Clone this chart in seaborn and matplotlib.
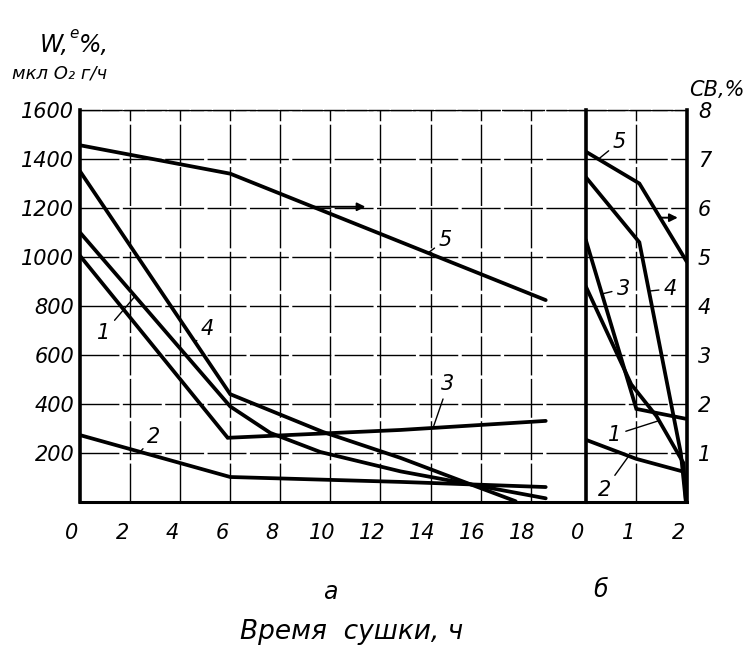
import numpy as np
import pandas as pd
import matplotlib
matplotlib.use("Agg")
import matplotlib.pyplot as plt
import matplotlib.transforms as mtransforms
import seaborn as sns

# ---- panel "а": long drying, W (мкл O2 г/ч) vs time, h ----
a1_h = [0, 6.0, 7.6, 9.6, 12.8, 15.6, 18.6]
a1_w = [1100, 390, 282, 204, 125, 72, 15]
a2_h = [0, 6.0, 12.8, 18.6]
a2_w = [273, 102, 82, 61]
a3_h = [0, 5.9, 12.8, 18.6]
a3_w = [1005, 262, 294, 331]
a4_h = [0, 6.0, 9.7, 12.8, 15.6, 17.4]
a4_w = [1350, 440, 286, 180, 72, 3]
# curve 5 is read on the right-hand СВ, % scale
a5_h = [0, 6.0, 18.6]
a5_cb = [7.28, 6.7, 4.12]

# ---- panel "б": short drying, СВ, % vs time, h ----
b1_h = [0, 0.9, 1.4, 1.93, 1.98]
b1_cb = [4.4, 2.4, 1.75, 0.8, 0.05]
b2_h = [0, 1.0, 1.93]
b2_cb = [1.27, 0.88, 0.62]
b3_h = [0, 1.0, 1.97]
b3_cb = [5.35, 1.9, 1.7]
b4_h = [0, 1.06, 1.88, 1.98]
b4_cb = [6.63, 5.3, 1.0, 0.0]
b5_h = [0, 1.06, 2.0]
b5_cb = [7.15, 6.5, 4.9]

a_xticks = [0, 2, 4, 6, 8, 10, 12, 14, 16, 18]
w_ticks = [200, 400, 600, 800, 1000, 1200, 1400, 1600]
b_xticks = [0, 1, 2]
cb_ticks = [1, 2, 3, 4, 5, 6, 7, 8]

sns.set_theme(style="white")
plt.rcParams['font.family'] = ['DejaVu Sans']
plt.rcParams['font.style'] = 'italic'
plt.rcParams['text.color'] = 'black'
plt.rcParams['xtick.color'] = 'black'
plt.rcParams['ytick.color'] = 'black'
plt.rcParams['axes.labelcolor'] = 'black'

INK = "black"
LW = 2.7
FS = 15

fig = plt.figure(figsize=(7.51, 6.55), dpi=100)
ax_a = fig.add_axes([0.1065, 0.2336, 0.6735, 0.5985])
ax_b = fig.add_axes([0.780, 0.2336, 0.1346, 0.5985])
ax_a5 = ax_a.twinx()


def curve(ax, xs, ys):
    df = pd.DataFrame({"t": xs, "v": ys})
    sns.lineplot(data=df, x="t", y="v", ax=ax, color=INK, lw=LW,
                 sort=False, estimator=None, solid_joinstyle="miter")


for xs, ys in [(a1_h, a1_w), (a2_h, a2_w), (a3_h, a3_w), (a4_h, a4_w)]:
    curve(ax_a, xs, ys)
curve(ax_a5, a5_h, a5_cb)
for xs, ys in [(b1_h, b1_cb), (b2_h, b2_cb), (b3_h, b3_cb),
               (b4_h, b4_cb), (b5_h, b5_cb)]:
    curve(ax_b, xs, ys)

# axes limits
ax_a.set_xlim(0, 20.2)
ax_a.set_ylim(0, 1600)
ax_a5.set_ylim(0, 8)
ax_b.set_xlim(0, 2.0)
ax_b.set_ylim(0, 8)

grid_kw = dict(color=INK, lw=1.0, ls=(0, (28, 2.5)), zorder=0)
for ax in (ax_a, ax_b):
    ax.set_facecolor("none")
    ax.set_xlabel("")
    ax.set_ylabel("")
    ax.tick_params(length=0)
ax_a.set_xticks(a_xticks)
ax_a.set_yticks(w_ticks)
ax_a.set_yticklabels([str(v) for v in w_ticks], fontsize=FS, style="italic")
ax_a.set_xticklabels([str(v) for v in a_xticks], fontsize=FS, style="italic")
ax_a.tick_params(axis="x", pad=15)
ax_a.tick_params(axis="y", pad=4)
for v in a_xticks[1:]:
    ax_a.axvline(v, **grid_kw)
for v in w_ticks:
    ax_a.axhline(v, **grid_kw)

ax_a5.set_yticks([])
ax_a5.set_ylabel("")
for s in ax_a5.spines.values():
    s.set_visible(False)

ax_b.set_xticks(b_xticks)
ax_b.set_xticklabels([str(v) for v in b_xticks], fontsize=FS, style="italic")
ax_b.yaxis.tick_right()
ax_b.set_yticks(cb_ticks)
ax_b.set_yticklabels([str(v) for v in cb_ticks], fontsize=FS, style="italic")
ax_b.tick_params(axis="x", pad=15)
ax_b.tick_params(axis="y", pad=8, right=True, left=False, length=0)
ax_b.axvline(1, **grid_kw)
for v in cb_ticks:
    ax_b.axhline(v, **grid_kw)

# frame
for ax in (ax_a, ax_b):
    for s in ax.spines.values():
        s.set_color(INK)
    ax.spines["top"].set_linewidth(1.0)
    ax.spines["top"].set_linestyle((0, (14, 2)))
    ax.spines["bottom"].set_linewidth(2.2)
    ax.spines["left"].set_linewidth(2.6)
ax_a.spines["right"].set_visible(False)
ax_b.spines["right"].set_linewidth(2.6)

# hand-lettered tick labels sit slightly left of their grid lines
shift = mtransforms.ScaledTranslation(-8 / 100, 0, fig.dpi_scale_trans)
for lab in ax_a.get_xticklabels() + ax_b.get_xticklabels():
    lab.set_transform(lab.get_transform() + shift)

# curve numbers with leaders
lead = dict(arrowstyle="-", lw=1.0, color=INK, shrinkA=1, shrinkB=0)
tkw = dict(fontsize=FS, style="italic", ha="center", va="center", color=INK)


def tag(ax, text, xt, yt, xc, xs, ys):
    ax.annotate(text, xy=(xc, np.interp(xc, xs, ys)), xytext=(xt, yt),
                arrowprops=lead, **tkw)


tag(ax_a5, "5", 14.6, 5.35, 13.9, a5_h, a5_cb)
tag(ax_a, "4", 5.1, 705, 4.6, a4_h, a4_w)
tag(ax_a, "1", 0.95, 690, 2.2, a1_h, a1_w)
tag(ax_a, "2", 2.95, 265, 2.4, a2_h, a2_w)
tag(ax_a, "3", 14.7, 480, 14.1, a3_h, a3_w)

tag(ax_b, "5", 0.67, 7.35, 0.25, b5_h, b5_cb)
tag(ax_b, "3", 0.74, 4.35, 0.32, b3_h, b3_cb)
tag(ax_b, "4", 1.67, 4.35, 1.25, b4_h, b4_cb)
tag(ax_b, "1", 0.57, 1.37, 1.45, b1_h, b1_cb)
tag(ax_b, "2", 0.37, 0.25, 0.85, b2_h, b2_cb)

# arrows: curve 5 refers to the right-hand scale
akw = dict(arrowstyle="-|>", lw=1.4, color=INK, mutation_scale=12,
           shrinkA=0, shrinkB=0)
ax_a5.annotate("", xy=(11.4, np.interp(9.3, a5_h, a5_cb)),
               xytext=(9.3, np.interp(9.3, a5_h, a5_cb)), arrowprops=akw)
ax_b.annotate("", xy=(1.82, np.interp(1.47, b5_h, b5_cb)),
              xytext=(1.47, np.interp(1.47, b5_h, b5_cb)), arrowprops=akw)

# axis titles and captions
fig.text(40 / 751, 1 - 45 / 655, "W,", fontsize=17, style="italic",
         ha="left", va="center")
fig.text(69 / 751, 1 - 33 / 655, "e", fontsize=11, style="italic",
         ha="left", va="center")
fig.text(79 / 751, 1 - 45 / 655, "%,", fontsize=17, style="italic",
         ha="left", va="center")
fig.text(12 / 751, 1 - 73 / 655, "мкл O₂ г/ч", fontsize=13, style="italic",
         ha="left", va="center")
fig.text(717 / 751, 1 - 90 / 655, "СВ,%", fontsize=15, style="italic",
         ha="center", va="center")
fig.text(330 / 751, 1 - 592 / 655, "а", fontsize=17, style="italic",
         ha="center", va="center")
fig.text(601 / 751, 1 - 590 / 655, "б", fontsize=17, style="italic",
         ha="center", va="center")
fig.text(352 / 751, 1 - 632 / 655, "Время  сушки, ч", fontsize=19,
         style="italic", ha="center", va="center")

fig.savefig("out.png", dpi=100, facecolor="white")
